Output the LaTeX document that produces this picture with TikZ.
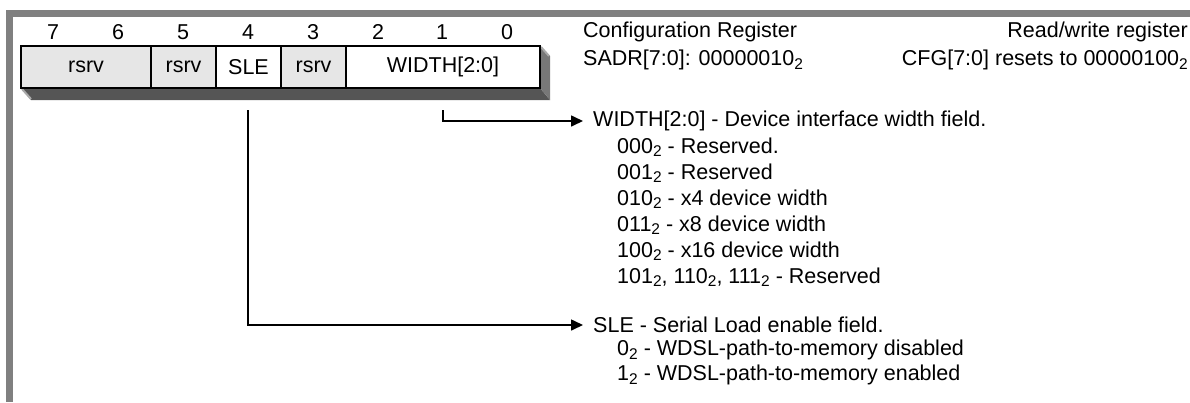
\documentclass[tikz,border=0pt]{standalone}
\usepackage{fontspec}
\setmainfont{Liberation Sans}
\usetikzlibrary{arrows.meta}
\definecolor{framegray}{RGB}{128,128,128}
\definecolor{cellgray}{RGB}{230,230,230}
\definecolor{shadowgray}{RGB}{85,85,85}
\definecolor{sidegray}{RGB}{120,120,120}
\definecolor{bevelgray}{RGB}{170,170,170}
\newcommand{\radix}[1]{\raisebox{-3.5pt}{\fontsize{15.5}{15.5}\selectfont #1}}

\begin{document}
\begin{tikzpicture}[x=1pt,y=1pt,yscale=-1,xscale=1,
	every node/.style={font=\fontsize{21.5}{25}\selectfont, inner sep=0pt},
	cell/.style={draw, line width=1.6pt, minimum height=42pt},
	conn/.style={line width=1.6pt, -{Triangle[length=12pt,width=11pt]}}]
						\path[use as bounding box] (0,0) rectangle (1190,402);

						%Shape: Frame bars
						\fill[framegray] (6,10) rectangle (1190,17);
						\fill[framegray] (6,10) rectangle (13,402);

						%Shape: Shadow of register box
						\fill[shadowgray] (21,88) -- (31,100) -- (550,100) -- (540,88) -- cycle;
						\fill[sidegray] (540,46) -- (550,56) -- (550,100) -- (540,88) -- cycle;
						\draw[bevelgray, line width=2pt] (22,89) -- (31,99);
						\draw[bevelgray, line width=2pt] (541,47) -- (549,56);

						%Shape: Register fields
						\node[cell, fill=cellgray, minimum width=130pt] (rsrvhi) at (86,67) {rsrv};
						\node[cell, fill=cellgray, minimum width=65pt] (rsrvfive) at (183.5,67) {rsrv};
						\node[cell, fill=white, minimum width=65pt] (sle) at (248.5,67) {SLE};
						\node[cell, fill=cellgray, minimum width=65pt] (rsrvthree) at (313.5,67) {rsrv};
						\node[cell, fill=white, minimum width=194pt] (width) at (443,67) {WIDTH[2:0]};

						% Text Node
						\node (bitseven) at (53,32) {7};
						% Text Node
						\node (bitsix) at (118,32) {6};
						% Text Node
						\node (bitfive) at (183,32) {5};
						% Text Node
						\node (bitfour) at (248,32) {4};
						% Text Node
						\node (bitthree) at (313,32) {3};
						% Text Node
						\node (bittwo) at (378,32) {2};
						% Text Node
						\node (bitone) at (442,32) {1};
						% Text Node
						\node (bitzero) at (507,32) {0};

						% Text Node
						\node[anchor=west] (cfgname) at (583,32) {Configuration Register};
						% Text Node
						\node[anchor=west] (cfgaddr) at (583,60) {SADR[7:0]: 00000010\radix{2}};
						% Text Node
						\node[anchor=east] (cfgtype) at (1188,32) {Read/write register};
						% Text Node
						\node[anchor=east] (cfgreset) at (1188,60) {CFG[7:0] resets to 00000100\radix{2}};

						% Text Node
						\node[anchor=west, inner xsep=10pt] (widthdesc) at (583,121) {WIDTH[2:0] - Device interface width field.};
						\node[anchor=west] (widthzero) at (617,147) {000\radix{2} - Reserved.};
						\node[anchor=west] (widthone) at (617,173) {001\radix{2} - Reserved};
						\node[anchor=west] (widthtwo) at (617,199) {010\radix{2} - x4 device width};
						\node[anchor=west] (widththree) at (617,225) {011\radix{2} - x8 device width};
						\node[anchor=west] (widthfour) at (617,251) {100\radix{2} - x16 device width};
						\node[anchor=west] (widthrest) at (617,277) {101\radix{2}, 110\radix{2}, 111\radix{2} - Reserved};

						% Text Node
						\node[anchor=west, inner xsep=10pt] (sledesc) at (583,325) {SLE - Serial Load enable field.};
						\node[anchor=west] (sleoff) at (617,350) {0\radix{2} - WDSL-path-to-memory disabled};
						\node[anchor=west] (sleon) at (617,375) {1\radix{2} - WDSL-path-to-memory enabled};

						%Shape: Connectors
						\coordinate (widthtap) at (443,110);
						\coordinate (sletap) at (248,110);
						\draw[conn] (widthtap) |- (widthdesc.west);
						\draw[conn] (sletap) |- (sledesc.west);
\end{tikzpicture}
\end{document}
